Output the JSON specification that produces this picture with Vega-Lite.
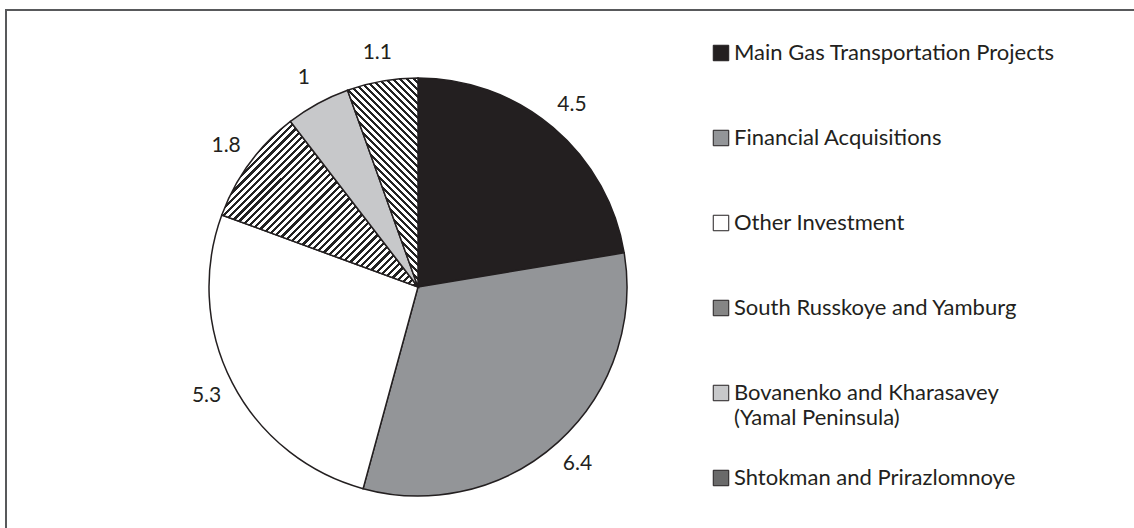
{
 "$schema": "https://vega.github.io/schema/vega-lite/v6.json",
 "width": 1160,
 "height": 530,
 "autosize": {"type": "none"},
 "padding": {"left": 6, "top": 10, "right": -32, "bottom": -12},
 "background": "white",
 "view": {"stroke": "#58595b", "strokeWidth": 2, "fill": "white"},
 "config": {"view": {"stroke": "#58595b", "strokeWidth": 2}, "font": "Lato"},
 "data": {"values": [
  {"cat": "Main Gas Transportation Projects", "value": 4.5, "order": 1},
  {"cat": "Financial Acquisitions", "value": 6.4, "order": 2},
  {"cat": "Other Investment", "value": 5.3, "order": 3},
  {"cat": "South Russkoye and Yamburg", "value": 1.8, "order": 4},
  {"cat": "Bovanenko and Kharasavey (Yamal Peninsula)", "value": 1, "order": 5},
  {"cat": "Shtokman and Prirazlomnoye", "value": 1.1, "order": 6}
 ]},
 "encoding": {
  "theta": {"field": "value", "type": "quantitative", "stack": true},
  "order": {"field": "order", "type": "quantitative"}
 },
 "layer": [
  {
   "mark": {"type": "arc", "outerRadius": 209, "x": 412, "y": 277, "stroke": "#231f20", "strokeWidth": 1.5},
   "encoding": {
    "fill": {
     "field": "cat", "type": "nominal",
     "scale": {
      "domain": ["Main Gas Transportation Projects", "Financial Acquisitions", "Other Investment", "South Russkoye and Yamburg", "Bovanenko and Kharasavey (Yamal Peninsula)", "Shtokman and Prirazlomnoye"],
      "range": ["#231f20", "#939598", "#ffffff", "#858585", "#c7c8ca", "#6a6a6a"]
     },
     "condition": [
      {"test": "datum.cat === 'South Russkoye and Yamburg'", "value": {"gradient": "linear", "x1": 0, "y1": 0, "x2": 1.0769, "y2": 0.909, "stops": [
{"offset":0,"color":"#222"},{"offset":0.009,"color":"#222"},{"offset":0.009,"color":"#fff"},{"offset":0.02,"color":"#fff"},
{"offset":0.02,"color":"#222"},{"offset":0.029,"color":"#222"},{"offset":0.029,"color":"#fff"},{"offset":0.04,"color":"#fff"},
{"offset":0.04,"color":"#222"},{"offset":0.049,"color":"#222"},{"offset":0.049,"color":"#fff"},{"offset":0.06,"color":"#fff"},
{"offset":0.06,"color":"#222"},{"offset":0.069,"color":"#222"},{"offset":0.069,"color":"#fff"},{"offset":0.08,"color":"#fff"},
{"offset":0.08,"color":"#222"},{"offset":0.089,"color":"#222"},{"offset":0.089,"color":"#fff"},{"offset":0.1,"color":"#fff"},
{"offset":0.1,"color":"#222"},{"offset":0.109,"color":"#222"},{"offset":0.109,"color":"#fff"},{"offset":0.12,"color":"#fff"},
{"offset":0.12,"color":"#222"},{"offset":0.129,"color":"#222"},{"offset":0.129,"color":"#fff"},{"offset":0.14,"color":"#fff"},
{"offset":0.14,"color":"#222"},{"offset":0.149,"color":"#222"},{"offset":0.149,"color":"#fff"},{"offset":0.16,"color":"#fff"},
{"offset":0.16,"color":"#222"},{"offset":0.169,"color":"#222"},{"offset":0.169,"color":"#fff"},{"offset":0.18,"color":"#fff"},
{"offset":0.18,"color":"#222"},{"offset":0.189,"color":"#222"},{"offset":0.189,"color":"#fff"},{"offset":0.2,"color":"#fff"},
{"offset":0.2,"color":"#222"},{"offset":0.209,"color":"#222"},{"offset":0.209,"color":"#fff"},{"offset":0.22,"color":"#fff"},
{"offset":0.22,"color":"#222"},{"offset":0.229,"color":"#222"},{"offset":0.229,"color":"#fff"},{"offset":0.24,"color":"#fff"},
{"offset":0.24,"color":"#222"},{"offset":0.249,"color":"#222"},{"offset":0.249,"color":"#fff"},{"offset":0.26,"color":"#fff"},
{"offset":0.26,"color":"#222"},{"offset":0.269,"color":"#222"},{"offset":0.269,"color":"#fff"},{"offset":0.28,"color":"#fff"},
{"offset":0.28,"color":"#222"},{"offset":0.289,"color":"#222"},{"offset":0.289,"color":"#fff"},{"offset":0.3,"color":"#fff"},
{"offset":0.3,"color":"#222"},{"offset":0.309,"color":"#222"},{"offset":0.309,"color":"#fff"},{"offset":0.32,"color":"#fff"},
{"offset":0.32,"color":"#222"},{"offset":0.329,"color":"#222"},{"offset":0.329,"color":"#fff"},{"offset":0.34,"color":"#fff"},
{"offset":0.34,"color":"#222"},{"offset":0.349,"color":"#222"},{"offset":0.349,"color":"#fff"},{"offset":0.36,"color":"#fff"},
{"offset":0.36,"color":"#222"},{"offset":0.369,"color":"#222"},{"offset":0.369,"color":"#fff"},{"offset":0.38,"color":"#fff"},
{"offset":0.38,"color":"#222"},{"offset":0.389,"color":"#222"},{"offset":0.389,"color":"#fff"},{"offset":0.4,"color":"#fff"},
{"offset":0.4,"color":"#222"},{"offset":0.409,"color":"#222"},{"offset":0.409,"color":"#fff"},{"offset":0.42,"color":"#fff"},
{"offset":0.42,"color":"#222"},{"offset":0.429,"color":"#222"},{"offset":0.429,"color":"#fff"},{"offset":0.44,"color":"#fff"},
{"offset":0.44,"color":"#222"},{"offset":0.449,"color":"#222"},{"offset":0.449,"color":"#fff"},{"offset":0.46,"color":"#fff"},
{"offset":0.46,"color":"#222"},{"offset":0.469,"color":"#222"},{"offset":0.469,"color":"#fff"},{"offset":0.48,"color":"#fff"},
{"offset":0.48,"color":"#222"},{"offset":0.489,"color":"#222"},{"offset":0.489,"color":"#fff"},{"offset":0.5,"color":"#fff"},
{"offset":0.5,"color":"#222"},{"offset":0.509,"color":"#222"},{"offset":0.509,"color":"#fff"},{"offset":0.52,"color":"#fff"},
{"offset":0.52,"color":"#222"},{"offset":0.529,"color":"#222"},{"offset":0.529,"color":"#fff"},{"offset":0.54,"color":"#fff"},
{"offset":0.54,"color":"#222"},{"offset":0.549,"color":"#222"},{"offset":0.549,"color":"#fff"},{"offset":0.56,"color":"#fff"},
{"offset":0.56,"color":"#222"},{"offset":0.569,"color":"#222"},{"offset":0.569,"color":"#fff"},{"offset":0.58,"color":"#fff"},
{"offset":0.58,"color":"#222"},{"offset":0.589,"color":"#222"},{"offset":0.589,"color":"#fff"},{"offset":0.6,"color":"#fff"},
{"offset":0.6,"color":"#222"},{"offset":0.609,"color":"#222"},{"offset":0.609,"color":"#fff"},{"offset":0.62,"color":"#fff"},
{"offset":0.62,"color":"#222"},{"offset":0.629,"color":"#222"},{"offset":0.629,"color":"#fff"},{"offset":0.64,"color":"#fff"},
{"offset":0.64,"color":"#222"},{"offset":0.649,"color":"#222"},{"offset":0.649,"color":"#fff"},{"offset":0.66,"color":"#fff"},
{"offset":0.66,"color":"#222"},{"offset":0.669,"color":"#222"},{"offset":0.669,"color":"#fff"},{"offset":0.68,"color":"#fff"},
{"offset":0.68,"color":"#222"},{"offset":0.689,"color":"#222"},{"offset":0.689,"color":"#fff"},{"offset":0.7,"color":"#fff"},
{"offset":0.7,"color":"#222"},{"offset":0.709,"color":"#222"},{"offset":0.709,"color":"#fff"},{"offset":0.72,"color":"#fff"},
{"offset":0.72,"color":"#222"},{"offset":0.729,"color":"#222"},{"offset":0.729,"color":"#fff"},{"offset":0.74,"color":"#fff"},
{"offset":0.74,"color":"#222"},{"offset":0.749,"color":"#222"},{"offset":0.749,"color":"#fff"},{"offset":0.76,"color":"#fff"},
{"offset":0.76,"color":"#222"},{"offset":0.769,"color":"#222"},{"offset":0.769,"color":"#fff"},{"offset":0.78,"color":"#fff"},
{"offset":0.78,"color":"#222"},{"offset":0.789,"color":"#222"},{"offset":0.789,"color":"#fff"},{"offset":0.8,"color":"#fff"},
{"offset":0.8,"color":"#222"},{"offset":0.809,"color":"#222"},{"offset":0.809,"color":"#fff"},{"offset":0.82,"color":"#fff"},
{"offset":0.82,"color":"#222"},{"offset":0.829,"color":"#222"},{"offset":0.829,"color":"#fff"},{"offset":0.84,"color":"#fff"},
{"offset":0.84,"color":"#222"},{"offset":0.849,"color":"#222"},{"offset":0.849,"color":"#fff"},{"offset":0.86,"color":"#fff"},
{"offset":0.86,"color":"#222"},{"offset":0.869,"color":"#222"},{"offset":0.869,"color":"#fff"},{"offset":0.88,"color":"#fff"},
{"offset":0.88,"color":"#222"},{"offset":0.889,"color":"#222"},{"offset":0.889,"color":"#fff"},{"offset":0.9,"color":"#fff"},
{"offset":0.9,"color":"#222"},{"offset":0.909,"color":"#222"},{"offset":0.909,"color":"#fff"},{"offset":0.92,"color":"#fff"},
{"offset":0.92,"color":"#222"},{"offset":0.929,"color":"#222"},{"offset":0.929,"color":"#fff"},{"offset":0.94,"color":"#fff"},
{"offset":0.94,"color":"#222"},{"offset":0.949,"color":"#222"},{"offset":0.949,"color":"#fff"},{"offset":0.96,"color":"#fff"},
{"offset":0.96,"color":"#222"},{"offset":0.969,"color":"#222"},{"offset":0.969,"color":"#fff"},{"offset":0.98,"color":"#fff"},
{"offset":0.98,"color":"#222"},{"offset":0.989,"color":"#222"},{"offset":0.989,"color":"#fff"},{"offset":1,"color":"#fff"}
      ]}},
      {"test": "datum.cat === 'Shtokman and Prirazlomnoye'", "value": {"gradient": "linear", "x1": 0, "y1": 1, "x2": 0.4044, "y2": -0.2007, "stops": [
{"offset":0,"color":"#222"},{"offset":0.011,"color":"#222"},{"offset":0.011,"color":"#fff"},{"offset":0.025,"color":"#fff"},
{"offset":0.025,"color":"#222"},{"offset":0.036,"color":"#222"},{"offset":0.036,"color":"#fff"},{"offset":0.05,"color":"#fff"},
{"offset":0.05,"color":"#222"},{"offset":0.061,"color":"#222"},{"offset":0.061,"color":"#fff"},{"offset":0.075,"color":"#fff"},
{"offset":0.075,"color":"#222"},{"offset":0.086,"color":"#222"},{"offset":0.086,"color":"#fff"},{"offset":0.1,"color":"#fff"},
{"offset":0.1,"color":"#222"},{"offset":0.111,"color":"#222"},{"offset":0.111,"color":"#fff"},{"offset":0.125,"color":"#fff"},
{"offset":0.125,"color":"#222"},{"offset":0.136,"color":"#222"},{"offset":0.136,"color":"#fff"},{"offset":0.15,"color":"#fff"},
{"offset":0.15,"color":"#222"},{"offset":0.161,"color":"#222"},{"offset":0.161,"color":"#fff"},{"offset":0.175,"color":"#fff"},
{"offset":0.175,"color":"#222"},{"offset":0.186,"color":"#222"},{"offset":0.186,"color":"#fff"},{"offset":0.2,"color":"#fff"},
{"offset":0.2,"color":"#222"},{"offset":0.211,"color":"#222"},{"offset":0.211,"color":"#fff"},{"offset":0.225,"color":"#fff"},
{"offset":0.225,"color":"#222"},{"offset":0.236,"color":"#222"},{"offset":0.236,"color":"#fff"},{"offset":0.25,"color":"#fff"},
{"offset":0.25,"color":"#222"},{"offset":0.261,"color":"#222"},{"offset":0.261,"color":"#fff"},{"offset":0.275,"color":"#fff"},
{"offset":0.275,"color":"#222"},{"offset":0.286,"color":"#222"},{"offset":0.286,"color":"#fff"},{"offset":0.3,"color":"#fff"},
{"offset":0.3,"color":"#222"},{"offset":0.311,"color":"#222"},{"offset":0.311,"color":"#fff"},{"offset":0.325,"color":"#fff"},
{"offset":0.325,"color":"#222"},{"offset":0.336,"color":"#222"},{"offset":0.336,"color":"#fff"},{"offset":0.35,"color":"#fff"},
{"offset":0.35,"color":"#222"},{"offset":0.361,"color":"#222"},{"offset":0.361,"color":"#fff"},{"offset":0.375,"color":"#fff"},
{"offset":0.375,"color":"#222"},{"offset":0.386,"color":"#222"},{"offset":0.386,"color":"#fff"},{"offset":0.4,"color":"#fff"},
{"offset":0.4,"color":"#222"},{"offset":0.411,"color":"#222"},{"offset":0.411,"color":"#fff"},{"offset":0.425,"color":"#fff"},
{"offset":0.425,"color":"#222"},{"offset":0.436,"color":"#222"},{"offset":0.436,"color":"#fff"},{"offset":0.45,"color":"#fff"},
{"offset":0.45,"color":"#222"},{"offset":0.461,"color":"#222"},{"offset":0.461,"color":"#fff"},{"offset":0.475,"color":"#fff"},
{"offset":0.475,"color":"#222"},{"offset":0.486,"color":"#222"},{"offset":0.486,"color":"#fff"},{"offset":0.5,"color":"#fff"},
{"offset":0.5,"color":"#222"},{"offset":0.511,"color":"#222"},{"offset":0.511,"color":"#fff"},{"offset":0.525,"color":"#fff"},
{"offset":0.525,"color":"#222"},{"offset":0.536,"color":"#222"},{"offset":0.536,"color":"#fff"},{"offset":0.55,"color":"#fff"},
{"offset":0.55,"color":"#222"},{"offset":0.561,"color":"#222"},{"offset":0.561,"color":"#fff"},{"offset":0.575,"color":"#fff"},
{"offset":0.575,"color":"#222"},{"offset":0.586,"color":"#222"},{"offset":0.586,"color":"#fff"},{"offset":0.6,"color":"#fff"},
{"offset":0.6,"color":"#222"},{"offset":0.611,"color":"#222"},{"offset":0.611,"color":"#fff"},{"offset":0.625,"color":"#fff"},
{"offset":0.625,"color":"#222"},{"offset":0.636,"color":"#222"},{"offset":0.636,"color":"#fff"},{"offset":0.65,"color":"#fff"},
{"offset":0.65,"color":"#222"},{"offset":0.661,"color":"#222"},{"offset":0.661,"color":"#fff"},{"offset":0.675,"color":"#fff"},
{"offset":0.675,"color":"#222"},{"offset":0.686,"color":"#222"},{"offset":0.686,"color":"#fff"},{"offset":0.7,"color":"#fff"},
{"offset":0.7,"color":"#222"},{"offset":0.711,"color":"#222"},{"offset":0.711,"color":"#fff"},{"offset":0.725,"color":"#fff"},
{"offset":0.725,"color":"#222"},{"offset":0.736,"color":"#222"},{"offset":0.736,"color":"#fff"},{"offset":0.75,"color":"#fff"},
{"offset":0.75,"color":"#222"},{"offset":0.761,"color":"#222"},{"offset":0.761,"color":"#fff"},{"offset":0.775,"color":"#fff"},
{"offset":0.775,"color":"#222"},{"offset":0.786,"color":"#222"},{"offset":0.786,"color":"#fff"},{"offset":0.8,"color":"#fff"},
{"offset":0.8,"color":"#222"},{"offset":0.811,"color":"#222"},{"offset":0.811,"color":"#fff"},{"offset":0.825,"color":"#fff"},
{"offset":0.825,"color":"#222"},{"offset":0.836,"color":"#222"},{"offset":0.836,"color":"#fff"},{"offset":0.85,"color":"#fff"},
{"offset":0.85,"color":"#222"},{"offset":0.861,"color":"#222"},{"offset":0.861,"color":"#fff"},{"offset":0.875,"color":"#fff"},
{"offset":0.875,"color":"#222"},{"offset":0.886,"color":"#222"},{"offset":0.886,"color":"#fff"},{"offset":0.9,"color":"#fff"},
{"offset":0.9,"color":"#222"},{"offset":0.911,"color":"#222"},{"offset":0.911,"color":"#fff"},{"offset":0.925,"color":"#fff"},
{"offset":0.925,"color":"#222"},{"offset":0.936,"color":"#222"},{"offset":0.936,"color":"#fff"},{"offset":0.95,"color":"#fff"},
{"offset":0.95,"color":"#222"},{"offset":0.961,"color":"#222"},{"offset":0.961,"color":"#fff"},{"offset":0.975,"color":"#fff"},
{"offset":0.975,"color":"#222"},{"offset":0.986,"color":"#222"},{"offset":0.986,"color":"#fff"},{"offset":1,"color":"#fff"}
      ]}}
     ],
     "legend": {
      "title": null,
      "orient": "none",
      "legendX": 704,
      "legendY": 32,
      "padding": 0,
      "symbolType": "square",
      "symbolSize": 240,
      "symbolStrokeColor": "#231f20",
      "symbolStrokeWidth": 1,
      "symbolOpacity": 1,
      "labelFont": "Lato",
      "labelFontSize": 22,
      "labelColor": "#231f20",
      "labelOffset": 2,
      "labelLimit": 500,
      "rowPadding": 38,
      "gridAlign": "all",
      "labelExpr": "datum.label == 'Bovanenko and Kharasavey (Yamal Peninsula)' ? ['Bovanenko and Kharasavey', '(Yamal Peninsula)'] : datum.label",
      "encode": {
       "labels": {"update": {
        "lineHeight": {"value": 25}
       }},
       "symbols": {"update": {
        "stroke": {"value": "#231f20"},
        "strokeWidth": {"value": 1}
       }}
      }
     }
    }
   }
  },
  {
   "mark": {"type": "text", "radius": 238, "x": 412, "y": 277, "fontSize": 21, "font": "Lato", "fill": "#231f20"},
   "encoding": {"text": {"field": "value", "type": "nominal"}}
  }
 ]
}
